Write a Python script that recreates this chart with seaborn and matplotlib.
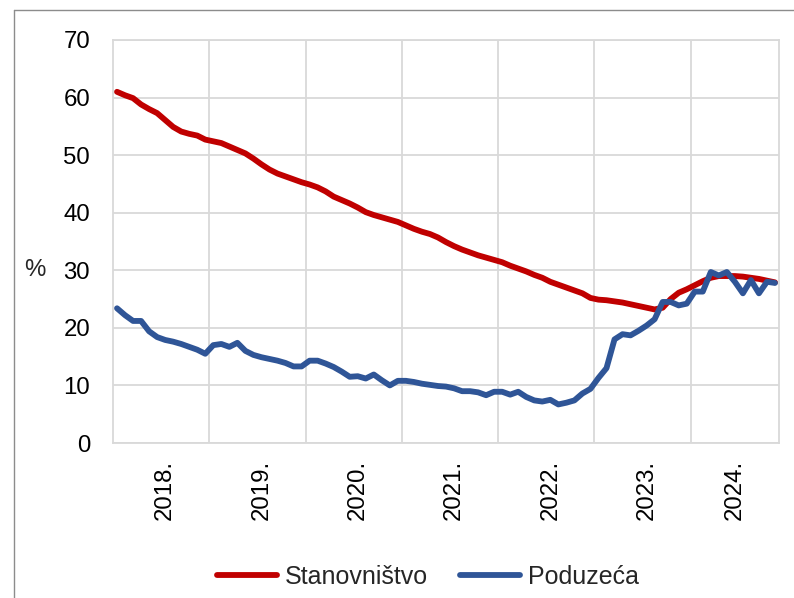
import numpy as np
import pandas as pd
import matplotlib
matplotlib.use("Agg")
import matplotlib.pyplot as plt
import seaborn as sns
from matplotlib.lines import Line2D

# Monthly shares (%), January 2018 - November 2024
years = ["2018.", "2019.", "2020.", "2021.", "2022.", "2023.", "2024."]
year_label_pos = [6, 18, 30, 42, 54, 66, 77]

stanovnistvo = [
    61.0, 60.4, 59.9, 58.8, 58.0, 57.3, 56.1, 54.9, 54.1, 53.7, 53.4, 52.7,
    52.4, 52.1, 51.5, 50.9, 50.3, 49.4, 48.4, 47.5, 46.8, 46.3, 45.8, 45.3,
    44.9, 44.4, 43.7, 42.8, 42.2, 41.6, 40.9, 40.1, 39.6, 39.2, 38.8, 38.4,
    37.8, 37.2, 36.7, 36.3, 35.7, 34.9, 34.2, 33.6, 33.1, 32.6, 32.2, 31.8,
    31.4, 30.8, 30.3, 29.8, 29.2, 28.7, 28.0, 27.5, 27.0, 26.5, 26.0, 25.2,
    24.9, 24.8, 24.6, 24.4, 24.1, 23.8, 23.5, 23.2, 23.5, 25.0, 26.1, 26.7,
    27.4, 28.1, 28.7, 29.0, 29.0, 29.0, 28.9, 28.7, 28.5, 28.2, 27.9,
]

poduzeca = [
    23.4, 22.2, 21.2, 21.2, 19.4, 18.4, 17.9, 17.6, 17.2, 16.7, 16.2, 15.5,
    17.0, 17.2, 16.7, 17.4, 16.0, 15.3, 14.9, 14.6, 14.3, 13.9, 13.3, 13.3,
    14.3, 14.3, 13.8, 13.2, 12.4, 11.5, 11.6, 11.2, 11.9, 10.9, 10.0, 10.8,
    10.8, 10.6, 10.3, 10.1, 9.9, 9.8, 9.5, 9.0, 9.0, 8.8, 8.3, 8.9,
    8.9, 8.4, 8.9, 8.0, 7.4, 7.2, 7.5, 6.7, 7.0, 7.4, 8.6, 9.4,
    11.3, 13.0, 18.0, 18.9, 18.7, 19.5, 20.4, 21.5, 24.5, 24.5, 23.9, 24.2,
    26.3, 26.3, 29.7, 29.1, 29.7, 28.0, 26.0, 28.3, 26.0, 28.0, 27.8,
]

series_names = ["Stanovništvo", "Poduzeća"]
colors = ["#C00000", "#2F5597"]

n = len(stanovnistvo)
month = np.arange(n)
df = pd.DataFrame({
    "month": np.concatenate([month, month]),
    "value": stanovnistvo + poduzeca,
    "series": [series_names[0]] * n + [series_names[1]] * n,
})

sns.set_style("white")
plt.rcParams["font.family"] = ["Liberation Sans", "DejaVu Sans"]

fig = plt.figure(figsize=(7.94, 5.98), dpi=100)
ax = fig.add_axes([113 / 794, 1 - 443 / 598, (779 - 113) / 794, (443 - 40) / 598])

grid_col = "#D9D9D9"
sns.lineplot(data=df, x="month", y="value", hue="series",
             palette=dict(zip(series_names, colors)), linewidth=4.2,
             ax=ax, legend=False, zorder=3)

ax.set_xlim(-0.5, n - 0.5)
ax.set_ylim(0, 70)
ax.set_yticks(np.arange(0, 71, 10))
ax.set_yticklabels([str(v) for v in range(0, 71, 10)], fontsize=17.3)
ax.set_xticks(year_label_pos)
ax.set_xticklabels(years, rotation=90, fontsize=17.3, va="top", ha="center")
ax.set_xticks(np.arange(1, len(years)) * 12 - 0.5, minor=True)
ax.tick_params(axis="both", which="both", length=0, colors="#000000")
ax.tick_params(axis="y", pad=16.5)
ax.tick_params(axis="x", pad=12)
ax.set_xlabel("")
ax.set_ylabel("")

ax.grid(axis="y", which="major", color=grid_col, linewidth=1.3)
ax.grid(axis="x", which="minor", color=grid_col, linewidth=1.3)
ax.grid(axis="x", which="major", visible=False)
ax.set_axisbelow(True)
for s in ax.spines.values():
    s.set_color(grid_col)
    s.set_linewidth(1.3)

fig.text(35 / 794, 1 - 270 / 598, "%", fontsize=17.3, ha="center", va="center")

handles = [Line2D([0], [0], color=c, linewidth=4.2, solid_capstyle="round")
           for c in colors]
fig.legend(handles, series_names, loc="center", ncol=2,
           bbox_to_anchor=(428 / 794, 1 - 577 / 598), frameon=False,
           fontsize=18, handlelength=2.4, handletextpad=0.3,
           columnspacing=1.3)

# Outer frame (left and top edges)
frame_col = "#8C8C8C"
fig.add_artist(Line2D([14 / 794, 14 / 794], [0, 1 - 10 / 598],
                      transform=fig.transFigure, color=frame_col, linewidth=1.0))
fig.add_artist(Line2D([14 / 794, 1], [1 - 10 / 598, 1 - 10 / 598],
                      transform=fig.transFigure, color=frame_col, linewidth=1.0))

fig.savefig("out.png", dpi=100)
